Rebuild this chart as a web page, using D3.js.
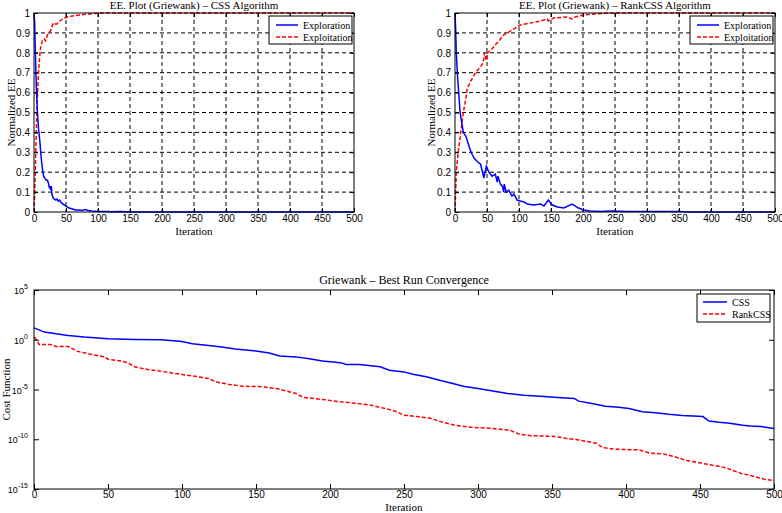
<!DOCTYPE html>
<html><head><meta charset="utf-8">
<script src="https://cdn.jsdelivr.net/npm/d3@7"></script>
<style>
body{margin:0;background:#fff;}
text{fill:#000;}
.tick text{font-family:"Liberation Sans",Arial,sans-serif;font-size:10px;}
.lbl{font-family:"Liberation Serif","Times New Roman",serif;font-size:11px;}
</style></head>
<body><svg id="c" width="782" height="513"></svg>
<script>
// ---- data ----
const iterTicks = [0,50,100,150,200,250,300,350,400,450,500];
const eeTicks = [0,0.1,0.2,0.3,0.4,0.5,0.6,0.7,0.8,0.9,1];
const costTicks = [1e5,1e0,1e-5,1e-10,1e-15];
const costTickExp = ["5","0","-5","-10","-15"];

const cssExploreIter = [0,1,2,3,4,5,6,7,8,9,10,11,12,13,14,15,17,19,21,23,24,25,26,27,28,30,32,34,36,38,40,42,45,48,50,55,60,65,70,75,80,85,90,95,100,110,115,120,135,150,500];
const cssExploreVal  = [1.0,0.95,0.82,0.7,0.6,0.52,0.47,0.42,0.39,0.36,0.32,0.28,0.25,0.22,0.2,0.18,0.17,0.16,0.16,0.14,0.12,0.13,0.11,0.13,0.09,0.07,0.065,0.06,0.065,0.055,0.06,0.05,0.04,0.035,0.03,0.02,0.015,0.01,0.01,0.008,0.012,0.008,0.005,0.004,0.002,0.002,0.003,0.001,0.002,0,0];
const cssExploitIter = [0,1,2,3,4,5,6,8,10,13,16,18,21,23,26,28,30,33,36,40,45,52,60,73,85,104,500];
const cssExploitVal  = [0,0.08,0.2,0.33,0.45,0.55,0.63,0.75,0.82,0.86,0.87,0.86,0.89,0.9,0.91,0.93,0.95,0.945,0.945,0.96,0.97,0.98,0.985,0.99,0.995,1.0,1.0];

const rankExploreIter = [0,1,2,4,8,13,17,22,25,30,36,40,43,45,49,53,58,63,66,67,71,74,76,77,80,84,89,92,97,102,108,113,123,134,139,146,152,160,170,183,188,193,201,211,227,243,269,352,360,500];
const rankExploreVal  = [1.0,0.92,0.8,0.68,0.5,0.4,0.38,0.33,0.3,0.27,0.25,0.24,0.2,0.17,0.23,0.2,0.18,0.19,0.15,0.18,0.14,0.13,0.1,0.14,0.1,0.11,0.08,0.09,0.06,0.055,0.05,0.04,0.035,0.04,0.03,0.06,0.035,0.025,0.02,0.04,0.03,0.02,0.01,0.005,0.003,0.005,0.002,0.003,0,0];
const rankExploitIter = [0,1,2,5,9,13,17,19,25,32,40,44,46,49,51,58,63,69,71,76,82,92,102,118,134,144,146,154,175,183,188,201,217,238,500];
const rankExploitVal  = [0,0.1,0.2,0.3,0.4,0.5,0.57,0.62,0.66,0.7,0.73,0.75,0.8,0.76,0.8,0.82,0.84,0.86,0.87,0.89,0.9,0.92,0.94,0.95,0.96,0.97,0.96,0.975,0.98,0.97,0.98,0.99,0.995,1.0,1.0];

const costCssIter = [0,7,23,34,50,68,86,100,107,118,127,136,150,159,166,177,186,195,207,211,220,234,240,250,256,265,274,283,290,300,309,320,331,342,354,365,368,377,386,395,402,411,420,429,438,452,456,463,470,479,484,491,500];
const costCssVal  = [15.8,5.9,2.7,1.86,1.26,1.07,1.0,0.68,0.4,0.27,0.19,0.12,0.074,0.047,0.023,0.019,0.0126,7.4e-3,5e-3,3.2e-3,3.2e-3,1.9e-3,8.5e-4,5.9e-4,3.4e-4,1.9e-4,8.5e-5,4e-5,2.1e-5,1.26e-5,7.4e-6,4e-6,2.7e-6,2.1e-6,1.6e-6,1.26e-6,6.8e-7,4e-7,2.1e-7,1.6e-7,1.2e-7,5.9e-8,4.7e-8,3.2e-8,2.5e-8,1.9e-8,6.8e-9,5e-9,4e-9,2.5e-9,2.1e-9,1.9e-9,1.2e-9];
const costRankIter = [0,1,2,3.4,11,15,23,26,29.5,38.6,47.7,50,59,63.6,68,77,88.6,100,111,118,122.7,132,141,154.5,163.6,170,177,182,195,207,218,227,240,245,249.5,258.6,268,274.5,283.6,295,308.6,320,322,328,336,352,359,368,377,380,384,393,409,416,425,432,441,448,457,463,468,477,486,493,500];
const costRankVal  = [1.86,1.26,0.85,0.34,0.34,0.21,0.21,0.126,0.068,0.034,0.019,0.011,7.4e-3,4.7e-3,1.9e-3,1e-3,5.9e-4,3.2e-4,1.9e-4,1.26e-4,5.9e-5,3.2e-5,2.1e-5,1.9e-5,1.26e-5,7.4e-6,4e-6,1.6e-6,1e-6,5.9e-7,4e-7,2.7e-7,1.0e-7,5.9e-8,2.7e-8,1.9e-8,1.26e-8,5.9e-9,2.7e-9,1.6e-9,1.26e-9,8.5e-10,7.4e-10,3.2e-10,2.3e-10,1.9e-10,1.26e-10,8.5e-11,4.7e-11,4e-11,1.5e-11,1e-11,8.5e-12,4e-12,3.4e-12,1.9e-12,7.4e-13,4.7e-13,2.7e-13,1.9e-13,1.26e-13,4e-14,1.9e-14,1e-14,6.8e-15];

// ---- drawing ----
const svg = d3.select("#c");
const serif = '"Liberation Serif","Times New Roman",serif';
const sans = '"Liberation Sans",Arial,sans-serif';

function zip(xs, ys){ return xs.map((x,i)=>[x, ys[i]]); }

function eePlot(o){
  const g = svg.append("g");
  const x = d3.scaleLinear().domain([0,500]).range([o.x0,o.x1]);
  const y = d3.scaleLinear().domain([0,1]).range([o.y1,o.y0]);
  g.append("g").selectAll("line").data(iterTicks.slice(1,-1)).join("line")
    .attr("x1",d=>x(d)).attr("x2",d=>x(d)).attr("y1",o.y0).attr("y2",o.y1)
    .attr("stroke","#000").attr("stroke-width",1).attr("stroke-dasharray","4,3");
  g.append("g").selectAll("line").data(eeTicks.slice(1,-1)).join("line")
    .attr("y1",d=>y(d)).attr("y2",d=>y(d)).attr("x1",o.x0).attr("x2",o.x1)
    .attr("stroke","#000").attr("stroke-width",1).attr("stroke-dasharray","4,3");
  const line = d3.line().x(d=>x(d[0])).y(d=>y(d[1]));
  g.append("path").datum(zip(o.exploitI,o.exploitV)).attr("d",line)
    .attr("fill","none").attr("stroke","#ff0000").attr("stroke-width",1.5).attr("stroke-dasharray","4,2");
  g.append("path").datum(zip(o.exploreI,o.exploreV)).attr("d",line)
    .attr("fill","none").attr("stroke","#0000ff").attr("stroke-width",1.5);
  g.append("g").attr("transform",`translate(0,${o.y1})`)
    .call(d3.axisBottom(x).tickValues(iterTicks).tickSize(-4).tickPadding(3).tickFormat(d3.format("d")));
  g.append("g").attr("transform",`translate(${o.x0},0)`)
    .call(d3.axisLeft(y).tickValues(eeTicks).tickSize(-4).tickPadding(4).tickFormat(d=>d3.format("")(+d.toFixed(1))));
  g.append("g").attr("transform",`translate(0,${o.y0})`).call(d3.axisTop(x).tickValues(iterTicks).tickSize(-4).tickFormat(""));
  g.append("g").attr("transform",`translate(${o.x1},0)`).call(d3.axisRight(y).tickValues(eeTicks).tickSize(-4).tickFormat(""));
  g.selectAll(".domain").remove();
  g.selectAll(".tick line").attr("stroke","#000");
  g.append("rect").attr("x",o.x0).attr("y",o.y0).attr("width",o.x1-o.x0).attr("height",o.y1-o.y0)
    .attr("fill","none").attr("stroke","#000").attr("stroke-width",1);
  g.append("text").attr("class","lbl").attr("x",(o.x0+o.x1)/2).attr("y",9).attr("text-anchor","middle").text(o.title);
  g.append("text").attr("class","lbl").attr("x",(o.x0+o.x1)/2).attr("y",235).attr("text-anchor","middle").text("Iteration");
  g.append("text").attr("class","lbl").attr("transform",`translate(${o.ylx},${(o.y0+o.y1)/2}) rotate(-90)`).attr("text-anchor","middle").text("Normalized EE");
  const lx = o.x1-85, ly = o.y0+3;
  g.append("rect").attr("x",lx).attr("y",ly).attr("width",83).attr("height",28).attr("fill","#fff").attr("stroke","#000");
  const items = [["Exploration","#0000ff",null],["Exploitation","#ff0000","4,2"]];
  items.forEach((it,i)=>{
    const yy = ly+9+i*12;
    g.append("line").attr("x1",lx+7).attr("x2",lx+29).attr("y1",yy).attr("y2",yy)
      .attr("stroke",it[1]).attr("stroke-width",1.5).attr("stroke-dasharray",it[2]);
    g.append("text").attr("x",lx+34).attr("y",yy+3.5).style("font-family",serif).style("font-size","10px").text(it[0]);
  });
}

eePlot({x0:34,x1:354,y0:13,y1:212,ylx:15,title:"EE. Plot (Griewank) \u2013 CSS Algorithm",
  exploreI:cssExploreIter,exploreV:cssExploreVal,exploitI:cssExploitIter,exploitV:cssExploitVal});
eePlot({x0:455,x1:775,y0:13,y1:212,ylx:435,title:"EE. Plot (Griewank) \u2013 RankCSS Algorithm",
  exploreI:rankExploreIter,exploreV:rankExploreVal,exploitI:rankExploitIter,exploitV:rankExploitVal});

(function(){
  const o = {x0:34,x1:774,y0:290,y1:489};
  const g = svg.append("g");
  const x = d3.scaleLinear().domain([0,500]).range([o.x0,o.x1]);
  const y = d3.scaleLog().domain([1e-15,1e5]).range([o.y1,o.y0]);
  const line = d3.line().x(d=>x(d[0])).y(d=>y(d[1]));
  g.append("path").datum(zip(costRankIter,costRankVal)).attr("d",line)
    .attr("fill","none").attr("stroke","#ff0000").attr("stroke-width",1.5).attr("stroke-dasharray","4,2");
  g.append("path").datum(zip(costCssIter,costCssVal)).attr("d",line)
    .attr("fill","none").attr("stroke","#0000ff").attr("stroke-width",1.5);
  g.append("g").attr("transform",`translate(0,${o.y1})`)
    .call(d3.axisBottom(x).tickValues(iterTicks).tickSize(-5).tickPadding(2).tickFormat(d3.format("d")));
  g.append("g").attr("transform",`translate(0,${o.y0})`).call(d3.axisTop(x).tickValues(iterTicks).tickSize(-5).tickFormat(""));
  g.append("g").attr("transform",`translate(${o.x0},0)`)
    .call(d3.axisLeft(y).tickValues(costTicks).tickSize(-5).tickFormat(""));
  g.append("g").attr("transform",`translate(${o.x1},0)`).call(d3.axisRight(y).tickValues(costTicks).tickSize(-5).tickFormat(""));
  g.selectAll(".domain").remove();
  g.selectAll(".tick line").attr("stroke","#000");
  costTicks.forEach((t,i)=>{
    const t1 = g.append("text").attr("x",o.x0-6).attr("y",y(t)+4).attr("text-anchor","end")
      .style("font-family",sans).style("font-size","9px");
    t1.append("tspan").text("10");
    t1.append("tspan").attr("dy",-5).style("font-size","7px").text(costTickExp[i]);
  });
  g.append("rect").attr("x",o.x0).attr("y",o.y0).attr("width",o.x1-o.x0).attr("height",o.y1-o.y0)
    .attr("fill","none").attr("stroke","#000");
  g.append("text").attr("class","lbl").attr("x",(o.x0+o.x1)/2).attr("y",284).attr("text-anchor","middle").style("font-size","12px").text("Griewank \u2013 Best Run Convergence");
  g.append("text").attr("class","lbl").attr("x",(o.x0+o.x1)/2).attr("y",511).attr("text-anchor","middle").text("Iteration");
  g.append("text").attr("class","lbl").attr("transform",`translate(10,${(o.y0+o.y1)/2}) rotate(-90)`).attr("text-anchor","middle").text("Cost Function");
  const lx = 697, ly = 294;
  g.append("rect").attr("x",lx).attr("y",ly).attr("width",73).attr("height",28).attr("fill","#fff").attr("stroke","#000");
  [["CSS","#0000ff",null],["RankCSS","#ff0000","4,2"]].forEach((it,i)=>{
    const yy = ly+8+i*12;
    g.append("line").attr("x1",lx+6).attr("x2",lx+30).attr("y1",yy).attr("y2",yy)
      .attr("stroke",it[1]).attr("stroke-width",1.5).attr("stroke-dasharray",it[2]);
    g.append("text").attr("x",lx+35).attr("y",yy+3.5).style("font-family",serif).style("font-size","10px").text(it[0]);
  });
})();
</script></body></html>
